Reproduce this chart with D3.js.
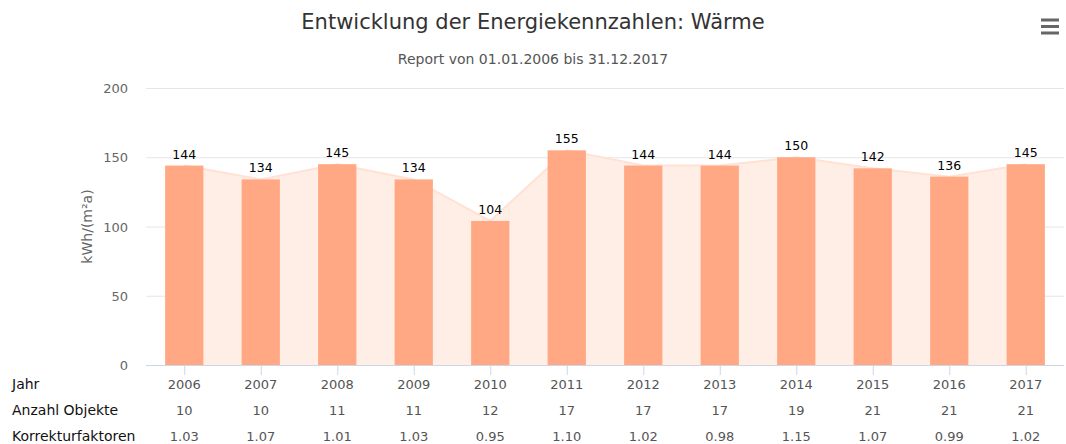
<!DOCTYPE html>
<html>
<head>
<meta charset="utf-8">
<script src="https://cdn.jsdelivr.net/npm/d3@7"></script>
<style>
  body { margin: 0; background: #fff; }
  svg { font-family: "DejaVu Sans", sans-serif; display: block; }
</style>
</head>
<body>
<div id="chart"></div>
<script>
const years = ["2006", "2007", "2008", "2009", "2010", "2011", "2012", "2013", "2014", "2015", "2016", "2017"];
const values = [144, 134, 145, 134, 104, 155, 144, 144, 150, 142, 136, 145];
const objects = [10, 10, 11, 11, 12, 17, 17, 17, 19, 21, 21, 21];
const factors = ["1.03", "1.07", "1.01", "1.03", "0.95", "1.10", "1.02", "0.98", "1.15", "1.07", "0.99", "1.02"];
const yTicks = [0, 50, 100, 150, 200];

const width = 1066;
const height = 444;
const padding = { top: 88, right: 2, bottom: 79, left: 146 };

const svg = d3.select("#chart")
  .append("svg")
  .attr("width", width)
  .attr("height", height);

const x = d3.scaleBand()
  .domain(years)
  .range([padding.left, width - padding.right])
  .paddingInner(0.5)
  .paddingOuter(0.25);

const y = d3.scaleLinear()
  .domain([0, 200])
  .range([height - padding.bottom, padding.top]);

const cx = (d) => x(d) + x.bandwidth() / 2;

// title
svg.append("text")
  .attr("x", 533).attr("y", 29)
  .attr("text-anchor", "middle")
  .attr("font-size", 21)
  .attr("fill", "#333")
  .text("Entwicklung der Energiekennzahlen: Wärme");
svg.append("text")
  .attr("x", 533).attr("y", 64)
  .attr("text-anchor", "middle")
  .attr("font-size", 14)
  .attr("fill", "#555")
  .text("Report von 01.01.2006 bis 31.12.2017");

// menu icon
[20, 26.5, 33].forEach((yy) => {
  svg.append("rect")
    .attr("x", 1041).attr("y", yy - 1.5)
    .attr("width", 18).attr("height", 3)
    .attr("fill", "#666");
});

// grid
svg.append("g")
  .selectAll("line")
  .data(yTicks.slice(1))
  .enter()
  .append("line")
  .attr("x1", padding.left).attr("x2", width - padding.right)
  .attr("y1", (d) => y(d) + 0.5).attr("y2", (d) => y(d) + 0.5)
  .attr("stroke", "#e6e6e6");

// y labels
svg.append("g")
  .selectAll("text")
  .data(yTicks)
  .enter()
  .append("text")
  .attr("x", 128)
  .attr("y", (d) => y(d) + 5)
  .attr("text-anchor", "end")
  .attr("font-size", 13)
  .attr("fill", "#666")
  .text((d) => d);

svg.append("text")
  .attr("transform", `translate(92,${y(100)}) rotate(-90)`)
  .attr("text-anchor", "middle")
  .attr("font-size", 14)
  .attr("fill", "#666")
  .text("kWh/(m²a)");

// area
const area = d3.area()
  .x((d, i) => cx(years[i]))
  .y0(y(0))
  .y1((d) => y(d));
svg.append("path")
  .datum(values)
  .attr("d", area)
  .attr("fill", "#ffeee6");
svg.append("path")
  .datum(values)
  .attr("d", d3.line().x((d, i) => cx(years[i])).y((d) => y(d)))
  .attr("fill", "none")
  .attr("stroke", "#ffe2d4")
  .attr("stroke-width", 2);

// bars
svg.append("g")
  .selectAll("rect")
  .data(values)
  .enter()
  .append("rect")
  .attr("fill", "#ffa883")
  .attr("x", (d, i) => x(years[i]))
  .attr("y", (d) => y(d))
  .attr("width", x.bandwidth())
  .attr("height", (d) => y(0) - y(d));

// data labels
svg.append("g")
  .selectAll("text")
  .data(values)
  .enter()
  .append("text")
  .attr("x", (d, i) => cx(years[i]))
  .attr("y", (d) => y(d) - 7)
  .attr("text-anchor", "middle")
  .attr("font-size", 12.5)
  .attr("fill", "#000")
  .text((d) => d);

// x axis
svg.append("line")
  .attr("x1", padding.left).attr("x2", width - padding.right)
  .attr("y1", y(0) + 0.5).attr("y2", y(0) + 0.5)
  .attr("stroke", "#ccd6eb");
svg.append("g")
  .selectAll("line")
  .data(years)
  .enter()
  .append("line")
  .attr("x1", (d) => cx(d) + 0.5).attr("x2", (d) => cx(d) + 0.5)
  .attr("y1", y(0)).attr("y2", y(0) + 10)
  .attr("stroke", "#ccd6eb");

// table rows
const rows = [
  { label: "Jahr", vals: years, yy: 389 },
  { label: "Anzahl Objekte", vals: objects, yy: 415 },
  { label: "Korrekturfaktoren", vals: factors, yy: 441 }
];
rows.forEach((r) => {
  svg.append("text")
    .attr("x", 12).attr("y", r.yy)
    .attr("font-size", 14)
    .attr("fill", "#111")
    .text(r.label);
  svg.append("g")
    .selectAll("text")
    .data(r.vals)
    .enter()
    .append("text")
    .attr("x", (d, i) => cx(years[i]))
    .attr("y", r.yy)
    .attr("text-anchor", "middle")
    .attr("font-size", 13)
    .attr("fill", "#555")
    .text((d) => d);
});
</script>
</body>
</html>
